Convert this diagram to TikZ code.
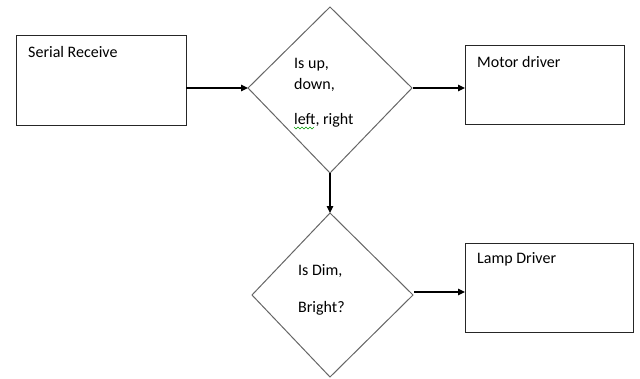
\documentclass[tikz,border=0pt]{standalone}
\usepackage{fontspec}
\setmainfont{Carlito}
\usetikzlibrary{arrows.meta}
\begin{document}
\begin{tikzpicture}[x=1pt,y=-1pt,
  boxline/.style={draw=black!85,line width=1pt},
  diamline/.style={draw=black!60,line width=1pt},
  conn/.style={draw=black,line width=1.2pt,-{Triangle[length=7pt,width=6.5pt]}},
  lbl/.style={anchor=base west,inner sep=0pt,font=\fontsize{16}{18}\selectfont}]
\useasboundingbox (0,0) rectangle (640,378);
% boxes
\draw[boxline] (16,35) rectangle (186,125);
\draw[boxline] (465,45) rectangle (624,124);
\draw[boxline] (465,243) rectangle (633,332);
\coordinate (sr) at (186,88);
\coordinate (md) at (465,88);
\coordinate (ld) at (465,292);
% diamonds
\coordinate (d1t) at (330,7);
\coordinate (d1l) at (248,88);
\coordinate (d1r) at (412,88);
\coordinate (d1b) at (330,173);
\draw[diamline] (d1t) -- (d1r) -- (d1b) -- (d1l) -- cycle;
\coordinate (d2t) at (330,213);
\coordinate (d2l) at (252,295);
\coordinate (d2r) at (413,295);
\coordinate (d2b) at (330,377);
\draw[diamline] (d2t) -- (d2r) -- (d2b) -- (d2l) -- cycle;
\coordinate (d1o) at (413,88);
\coordinate (d2o) at (414,292);
% connectors
\draw[conn] (sr) -- (d1l);
\draw[conn] (d1o) -- (md);
\draw[conn] (d1b) -- (d2t);
\draw[conn] (d2o) -- (ld);
% labels
\node[lbl] (t1) at (28,57) {Serial Receive};
\node[lbl] (t2) at (477,67) {Motor driver};
\node[lbl] (t3) at (294,68) {Is up,};
\node[lbl] (t4) at (294,89) {down,};
\node[lbl] (t5) at (294,124) {left, right};
\node[lbl] (t6) at (298,275) {Is Dim,};
\node[lbl] (t7) at (298,312) {Bright?};
\node[lbl] (t8) at (477,263) {Lamp Driver};
% spell-check squiggle
\draw[green!60!black,line width=0.6pt] (294,127) -- (296,129) -- (298,127) -- (300,129) -- (302,127) -- (304,129) -- (306,127) -- (308,129) -- (310,127) -- (312,129) -- (314,127);
\end{tikzpicture}
\end{document}
